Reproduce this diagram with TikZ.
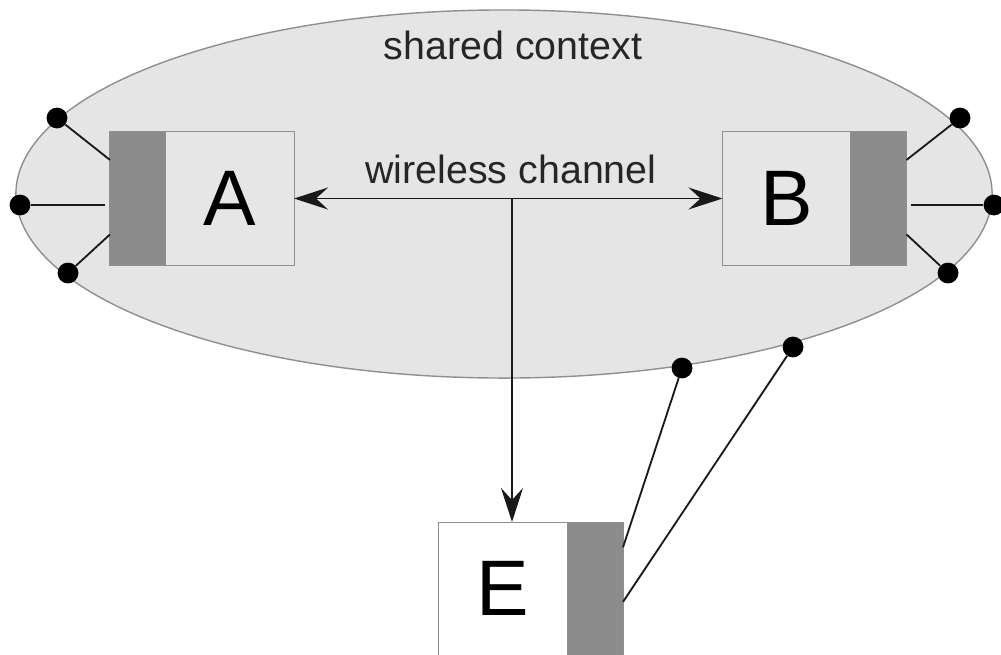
\documentclass[tikz,border=0pt]{standalone}
\usepackage{fontspec}
\setmainfont{Liberation Sans}
\usetikzlibrary{arrows.meta,calc}

\definecolor{ctxfill}{HTML}{E5E5E5}
\definecolor{boxfill}{HTML}{E6E6E6}
\definecolor{barfill}{HTML}{8C8C8C}
\definecolor{edge}{HTML}{8F8F8F}

\tikzset{
	station/.style={draw=edge,fill=boxfill,rectangle,outer sep=0cm,line width=0.7pt,
		minimum width=3.2cm,minimum height=3.325cm,font=\fontsize{56}{56}\selectfont},
	radio/.style={draw=edge,fill=barfill,rectangle,outer sep=0cm,line width=0.7pt,
		minimum width=1.4cm,minimum height=3.325cm},
	dot/.style={circle,fill=black,inner sep=0pt,minimum size=0.52cm},
	wire/.style={line width=1.3pt,black!90},
	chan/.style={line width=1.3pt,black!90,{Stealth[length=0.85cm,width=0.55cm,inset=0.3cm]}-{Stealth[length=0.85cm,width=0.55cm,inset=0.3cm]}},
	tap/.style={line width=1.3pt,black!90,-{Stealth[length=0.85cm,width=0.55cm,inset=0.3cm]}},
	caption/.style={font=\fontsize{28}{28}\selectfont,text=black!85}
}

\begin{document}
\begin{tikzpicture}[x=0.025cm,y=-0.025cm]
	\useasboundingbox (0,0) rectangle (1001,654);

	% shared context
	\draw[draw=edge,fill=ctxfill,line width=1pt] (504,194) ellipse [x radius=12.2cm,y radius=4.6cm];
	\node[caption] (context) at (513,45) {shared context};

	% stations
	\node[station] (A) at (230,198.5) {A};
	\node[radio,anchor=east] (Abar) at (A.west) {};
	\node[station] (B) at (786.5,198.5) {B};
	\node[radio,anchor=west] (Bbar) at (B.east) {};
	\node[station,fill=white] (E) at (503,588.5) {E};
	\node[radio,anchor=west] (Ebar) at (E.east) {};

	% antennas
	\node[dot] (a1) at (57,118) {};
	\node[dot] (a2) at (20,205) {};
	\node[dot] (a3) at (68,273) {};
	\node[dot] (b1) at (960,118) {};
	\node[dot] (b2) at (994,205) {};
	\node[dot] (b3) at (948,273) {};
	\node[dot] (e1) at (682,368) {};
	\node[dot] (e2) at (793,347) {};

	\draw[wire] (a1) -- ($(Abar.north west)!0.21!(Abar.south west)$);
	\draw[wire,shorten >=0.12cm] (a2) -- (Abar.west |- a2);
	\draw[wire] (a3) -- ($(Abar.north west)!0.77!(Abar.south west)$);
	\draw[wire] (b1) -- ($(Bbar.north east)!0.21!(Bbar.south east)$);
	\draw[wire,shorten >=0.12cm] (b2) -- (Bbar.east |- b2);
	\draw[wire] (b3) -- ($(Bbar.north east)!0.77!(Bbar.south east)$);
	\draw[wire] (e1) -- ($(Ebar.north east)!0.19!(Ebar.south east)$);
	\draw[wire] (e2) -- ($(Ebar.north east)!0.6!(Ebar.south east)$);

	% wireless channel
	\draw[chan] (A.east) -- (B.west);
	\node[caption,anchor=base] (channel) at (511,183) {wireless channel};
	\coordinate (split) at (512,198.5);
	\draw[tap] (split) -- (split |- E.north);

\end{tikzpicture}
\end{document}
